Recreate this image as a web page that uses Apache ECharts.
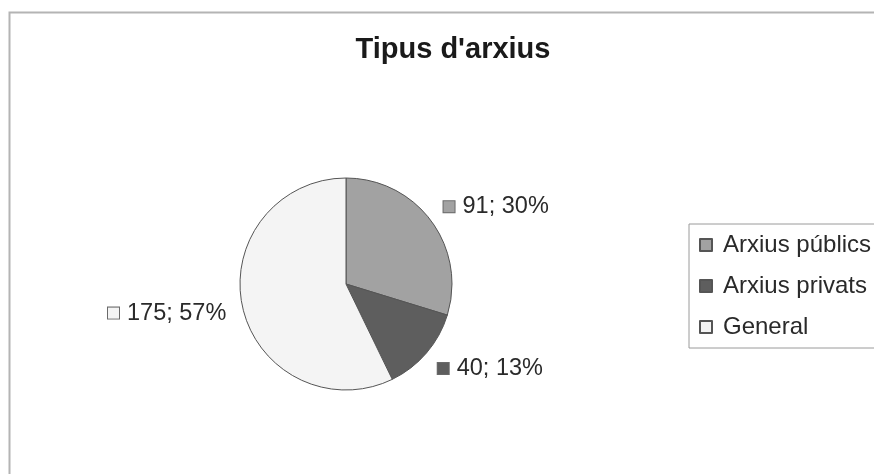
<!DOCTYPE html>
<html>
<head>
<meta charset="utf-8">
<script src="https://cdn.jsdelivr.net/npm/echarts@6/dist/echarts.min.js"></script>
<style>
  html, body { margin: 0; padding: 0; background: #fff; }
  #chart { width: 874px; height: 474px; }
</style>
</head>
<body>
<div id="chart"></div>
<script>
const categories = ["Arxius públics", "Arxius privats", "General"];
const values = [91, 40, 175];
const colors = ["#a2a2a2", "#5e5e5e", "#f4f4f4"];

const fontFamily = "'Liberation Sans', Arial, sans-serif";

const rich = {};
colors.forEach((c, i) => {
  rich["sq" + i] = {
    width: 11,
    height: 11,
    backgroundColor: c,
    borderColor: "#6a6a6a",
    borderWidth: 1
  };
});
rich.txt = { fontSize: 23.5, color: "#2a2a2a", fontFamily: fontFamily, padding: [0, 0, 0, 8] };

const chart = echarts.init(document.getElementById("chart"));

chart.setOption({
  animation: false,
  backgroundColor: "#fff",
  graphic: [
    {
      type: "rect",
      shape: { x: 9.5, y: 12.5, width: 900, height: 500 },
      style: { fill: "none", stroke: "#b4b4b4", lineWidth: 2 }
    }
  ],
  title: {
    text: "Tipus d'arxius",
    left: 448,
    top: 30,
    textAlign: "center",
    textStyle: { fontSize: 29, fontWeight: "bold", color: "#1a1a1a", fontFamily: fontFamily }
  },
  legend: {
    orient: "vertical",
    left: 689,
    top: 224,
    data: categories,
    icon: "rect",
    itemWidth: 12,
    itemHeight: 12,
    itemGap: 13,
    padding: [7, 30, 7, 10],
    borderColor: "#9a9a9a",
    borderWidth: 1,
    textStyle: { fontSize: 24, color: "#2a2a2a", fontFamily: fontFamily, lineHeight: 28, padding: [0, 0, 0, 6] }
  },
  series: [
    {
      type: "pie",
      center: [346, 284],
      radius: 106,
      startAngle: 90,
      clockwise: true,
      avoidLabelOverlap: false,
      percentPrecision: 0,
      itemStyle: { borderColor: "#555", borderWidth: 1 },
      emphasis: { disabled: true },
      label: {
        show: true,
        position: "outside",
        distanceToLabelLine: 0,
        formatter: p => "{sq" + p.dataIndex + "|}{txt|" + p.value + "; " + p.percent + "%}",
        rich: rich
      },
      labelLine: { show: false, length: 24, length2: -7 },
      data: categories.map((name, i) => ({
        name: name,
        value: values[i],
        itemStyle: { color: colors[i] }
      }))
    }
  ]
});
</script>
</body>
</html>
